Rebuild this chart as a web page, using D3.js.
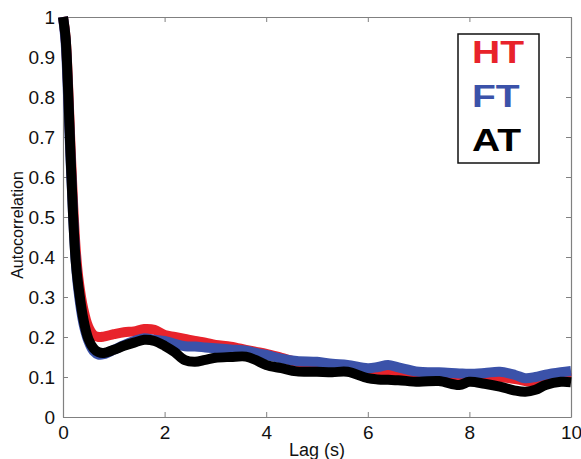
<!DOCTYPE html>
<html>
<head>
<meta charset="utf-8">
<script src="https://cdn.jsdelivr.net/npm/d3@7"></script>
<style>
  html, body { margin: 0; padding: 0; background: #fff; }
  svg { display: block; font-family: "Liberation Sans", Arial, sans-serif; }
</style>
</head>
<body>
<div id="chart"></div>
<script>
(function () {
  "use strict";

  const WIDTH = 581;
  const HEIGHT = 459;

  /* ---- data ---- */
  const lags = [0, 0.05, 0.1, 0.15, 0.2, 0.25, 0.3, 0.4, 0.5, 0.6, 0.7, 0.8, 1.0, 1.2, 1.4, 1.6, 1.8,
    2.0, 2.2, 2.4, 2.6, 2.8, 3.0, 3.3, 3.6, 3.8, 4.0, 4.3, 4.6, 5.0, 5.3, 5.6, 6.0, 6.2, 6.4, 6.6,
    7.0, 7.4, 7.8, 8.0, 8.3, 8.6, 8.9, 9.1, 9.3, 9.5, 9.8, 10];

  const htValues = [1.0, 0.95, 0.83, 0.67, 0.53, 0.42, 0.35, 0.27, 0.225, 0.205, 0.2, 0.201, 0.207,
    0.212, 0.214, 0.22, 0.218, 0.205, 0.2, 0.195, 0.19, 0.186, 0.18, 0.176, 0.168, 0.163, 0.158,
    0.148, 0.138, 0.133, 0.128, 0.125, 0.12, 0.118, 0.113, 0.114, 0.105, 0.103, 0.096, 0.1, 0.1,
    0.1, 0.095, 0.09, 0.088, 0.092, 0.098, 0.097];

  const ftValues = [1.0, 0.94, 0.8, 0.64, 0.5, 0.39, 0.32, 0.235, 0.19, 0.165, 0.156, 0.157, 0.168,
    0.18, 0.19, 0.197, 0.193, 0.19, 0.183, 0.177, 0.176, 0.174, 0.172, 0.169, 0.166, 0.16, 0.155,
    0.146, 0.14, 0.138, 0.133, 0.13, 0.122, 0.125, 0.13, 0.124, 0.113, 0.112, 0.109, 0.108, 0.11,
    0.113, 0.105, 0.097, 0.1, 0.106, 0.112, 0.115];

  const atValues = [1.0, 0.95, 0.82, 0.65, 0.5, 0.39, 0.33, 0.245, 0.195, 0.172, 0.162, 0.16, 0.168,
    0.178, 0.186, 0.193, 0.19, 0.178, 0.162, 0.142, 0.138, 0.143, 0.148, 0.15, 0.151, 0.142, 0.13,
    0.122, 0.114, 0.113, 0.112, 0.113, 0.097, 0.094, 0.093, 0.092, 0.088, 0.09, 0.08, 0.088, 0.083,
    0.076, 0.066, 0.063, 0.068, 0.08, 0.088, 0.087];

  const xTicks = [0, 2, 4, 6, 8, 10];
  const yTicks = [0, 0.1, 0.2, 0.3, 0.4, 0.5, 0.6, 0.7, 0.8, 0.9, 1];

  const seriesNames = ["HT", "FT", "AT"];
  const seriesColors = ["#e8232b", "#3b52a9", "#000000"];
  const seriesValues = [htValues, ftValues, atValues];

  const AXIS_COLOR = "#808080";
  const margin = { top: 17, right: 10, bottom: 42, left: 63 };

  const svg = d3.select("#chart").append("svg")
    .attr("width", WIDTH)
    .attr("height", HEIGHT);

  const x = d3.scaleLinear().domain([0, 10]).range([margin.left, WIDTH - margin.right]);
  const y = d3.scaleLinear().domain([0, 1]).range([HEIGHT - margin.bottom, margin.top]);

  /* ---- box + inward ticks on all four sides ---- */
  function styleAxis(g) {
    g.select(".domain").attr("stroke", AXIS_COLOR).attr("stroke-width", 1.2);
    g.selectAll(".tick line").attr("stroke", AXIS_COLOR).attr("stroke-width", 1);
    g.selectAll(".tick text").attr("fill", "#111").style("font-size", "19px")
      .style("font-family", "'Liberation Sans', Arial, sans-serif");
  }

  svg.append("g")
    .attr("transform", "translate(0," + y(0) + ")")
    .call(d3.axisBottom(x).tickValues(xTicks).tickSize(-5).tickSizeOuter(0).tickPadding(9)
      .tickFormat(d3.format("d")))
    .call(styleAxis);

  svg.append("g")
    .attr("transform", "translate(0," + y(1) + ")")
    .call(d3.axisTop(x).tickValues(xTicks).tickSize(-5).tickSizeOuter(0).tickFormat(""))
    .call(styleAxis);

  svg.append("g")
    .attr("transform", "translate(" + x(0) + ",0)")
    .call(d3.axisLeft(y).tickValues(yTicks).tickSize(-5).tickSizeOuter(0).tickPadding(8)
      .tickFormat(function (d) { return d === 0 || d === 1 ? String(d) : d3.format(".1f")(d); }))
    .call(styleAxis);

  svg.append("g")
    .attr("transform", "translate(" + x(10) + ",0)")
    .call(d3.axisRight(y).tickValues(yTicks).tickSize(-5).tickSizeOuter(0).tickFormat(""))
    .call(styleAxis);

  /* ---- curves ---- */
  const line = d3.line()
    .x(function (d) { return x(d[0]); })
    .y(function (d) { return y(d[1]); })
    .curve(d3.curveCatmullRom.alpha(0.5));

  const gLines = svg.append("g");
  seriesValues.forEach(function (vals, i) {
    gLines.append("path")
      .datum(lags.map(function (t, j) { return [t, vals[j]]; }))
      .attr("d", line)
      .attr("fill", "none")
      .attr("stroke", seriesColors[i])
      .attr("stroke-width", 10)
      .attr("stroke-linejoin", "round")
      .attr("stroke-linecap", "butt");
  });

  /* ---- axis titles ---- */
  svg.append("text")
    .attr("x", (x(0) + x(10)) / 2)
    .attr("y", 456)
    .attr("text-anchor", "middle")
    .style("font-size", "18px")
    .attr("fill", "#111")
    .text("Lag (s)");

  svg.append("text")
    .attr("transform", "translate(23," + ((y(0) + y(1)) / 2 + 8) + ") rotate(-90)")
    .attr("text-anchor", "middle")
    .style("font-size", "16px")
    .attr("fill", "#111")
    .text("Autocorrelation");

  /* ---- legend ---- */
  const legend = svg.append("g");
  legend.append("rect")
    .attr("x", 458).attr("y", 34)
    .attr("width", 81).attr("height", 129)
    .attr("fill", "#fff")
    .attr("stroke", "#111")
    .attr("stroke-width", 1.5);

  const baselines = [63, 107, 151];
  seriesNames.forEach(function (name, i) {
    legend.append("text")
      .attr("transform", "translate(472," + baselines[i] + ") scale(1.22,1)")
      .style("font-size", "32px")
      .style("font-weight", "bold")
      .attr("fill", seriesColors[i])
      .text(name);
  });
})();
</script>
</body>
</html>
